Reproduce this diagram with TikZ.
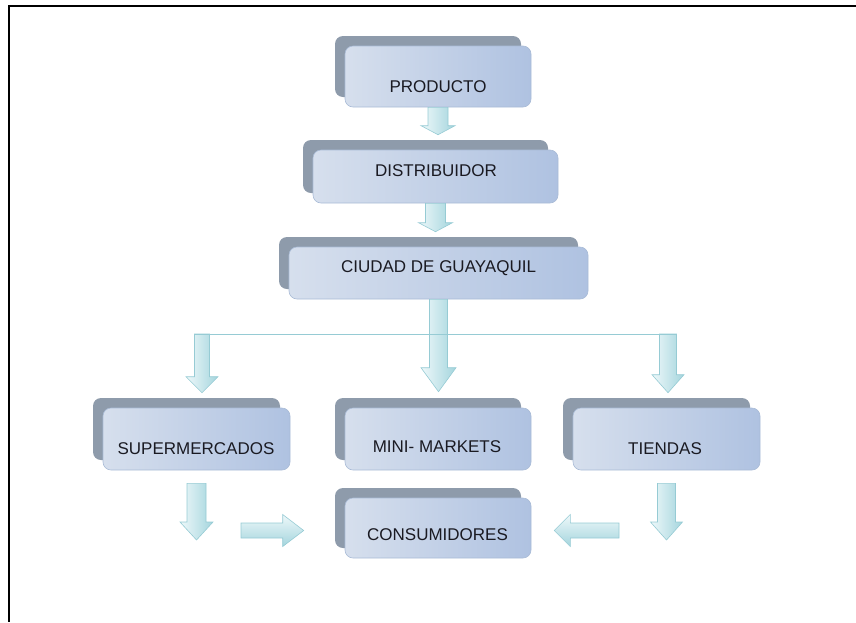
\documentclass[tikz,border=0pt]{standalone}
\usepackage{fontspec}
\setmainfont{Liberation Sans}
\usetikzlibrary{shadows}
\usetikzlibrary{calc}

\definecolor{backgray}{HTML}{8E9BAB}
\definecolor{boxleft}{HTML}{D6DFED}
\definecolor{boxmid}{HTML}{E7ECF4}
\definecolor{boxright}{HTML}{AFC2E1}
\definecolor{boxline}{HTML}{A9BBD6}
\definecolor{arrlight}{HTML}{EEF8FA}
\definecolor{arrdark}{HTML}{A4D5DD}
\definecolor{arrline}{HTML}{96CBD4}
\definecolor{txtcol}{HTML}{1A1A22}

% block arrows: start, tip, shaft half width, head half width, head length
\newcommand{\vblock}[5]{%
  \path[downarr] let \p1=(#1), \p2=(#2) in
    (\x1-#3pt,\y1) -- (\x1+#3pt,\y1) -- (\x1+#3pt,\y2+#5pt) -- (\x1+#4pt,\y2+#5pt)
    -- (\x1,\y2) -- (\x1-#4pt,\y2+#5pt) -- (\x1-#3pt,\y2+#5pt) -- cycle;}
\newcommand{\hblock}[5]{%
  \path[sidearr] let \p1=(#1), \p2=(#2) in
    (\x1,\y1+#3pt) -- (\x1,\y1-#3pt) -- (\x2+#5pt,\y1-#3pt) -- (\x2+#5pt,\y1-#4pt)
    -- (\x2,\y1) -- (\x2+#5pt,\y1+#4pt) -- (\x2+#5pt,\y1+#3pt) -- cycle;}

\begin{document}
\begin{tikzpicture}[x=1pt,y=-1pt]
  \tikzset{
    box/.style={
      rounded corners=8pt,
      draw=boxline, line width=0.6pt,
      left color=boxleft, middle color=boxmid, right color=boxright,
      general shadow={shadow xshift=-10pt, shadow yshift=10pt, fill=backgray},
      inner sep=0pt,
    },
    txt/.style={
      text=txtcol, inner sep=0pt,
      font=\fontsize{17}{20}\selectfont,
      text height=12.2pt, text depth=0pt,
    },
    downarr/.style={draw=arrline, line width=0.6pt, left color=arrlight, right color=arrdark},
    sidearr/.style={draw=arrline, line width=0.6pt, top color=arrlight, bottom color=arrdark},
    branch/.style={draw=arrline, line width=0.8pt},
  }
  \useasboundingbox (0,0) rectangle (856,622);
  \draw[line width=2pt] (856,6) -- (9,6) -- (9,622);

  % boxes
  \node[box, minimum width=186pt, minimum height=61pt] (prod) at (438,76.5) {};
  \node[box, minimum width=245pt, minimum height=53pt] (dist) at (435.5,176.5) {};
  \node[box, minimum width=299pt, minimum height=52pt] (gye) at (438.5,273) {};
  \node[box, minimum width=187pt, minimum height=62pt] (super) at (196.5,439) {};
  \node[box, minimum width=186pt, minimum height=62pt] (mini) at (438,439) {};
  \node[box, minimum width=187pt, minimum height=62pt] (tiend) at (666.5,439) {};
  \node[box, minimum width=186pt, minimum height=60pt] (cons) at (438,528) {};

  \node[txt] (prodt) at (438,86) {PRODUCTO};
  \node[txt] (distt) at (436,170) {DISTRIBUIDOR};
  \node[txt] (gyet) at (438.5,266) {CIUDAD DE GUAYAQUIL};
  \node[txt] (supert) at (196,448) {SUPERMERCADOS};
  \node[txt] (minit) at (437,446) {MINI- MARKETS};
  \node[txt] (tiendt) at (665,448) {TIENDAS};
  \node[txt] (const) at (437.5,534) {CONSUMIDORES};

  % free ends
  \coordinate (lbranch) at (202,334);
  \coordinate (rbranch) at (668,334);
  \coordinate (sdown) at (196.5,540);
  \coordinate (tdown) at (668,540);
  \coordinate (sright) at (241,530.5);
  \coordinate (tleft) at (619,530.5);

  % arrows
  \vblock{prod.south}{$(dist.north)+(0,-15)$}{10}{17}{9}
  \vblock{dist.south}{$(gye.north)+(0,-15)$}{10}{17}{9}
  \vblock{gye.south}{$(mini.north)+(0,-16)$}{9}{17.5}{24}
  \vblock{lbranch}{$(super.north)+(0,-15)$}{7.5}{16}{16}
  \vblock{rbranch}{$(tiend.north)+(0,-15)$}{8.5}{16}{18}
  \vblock{$(super.south)+(0,13)$}{sdown}{9.5}{16.5}{18}
  \vblock{$(tiend.south)+(0,13)$}{tdown}{9}{16}{18}
  \hblock{sright}{$(cons.west)+(-41,0)$}{7.5}{16}{-21}
  \hblock{tleft}{$(cons.east)+(23,0)$}{7.5}{16}{16}

  \draw[branch] ($(lbranch)+(-7.5,0)$) -- ($(rbranch)+(8.5,0)$);
\end{tikzpicture}
\end{document}
